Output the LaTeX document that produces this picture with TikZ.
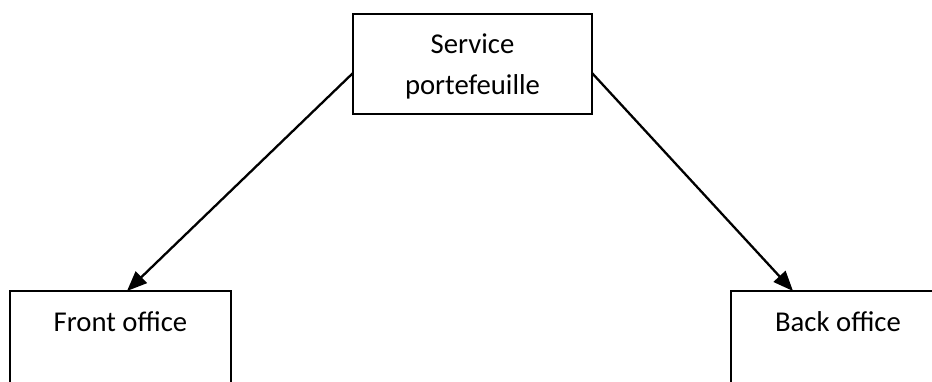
\documentclass[tikz,border=0pt]{standalone}
\usepackage{fontspec}
\setmainfont{Carlito}
\usetikzlibrary{arrows.meta}
\tikzset{
  box/.style={draw, line width=1.6pt, inner sep=0pt, outer sep=0pt, fill=none},
  lbl/.style={anchor=base, inner sep=0pt, font=\fontsize{28.7}{41}\selectfont},
  link/.style={line width=2.3pt, -{Triangle[length=20pt,width=16pt]}}
}
\begin{document}
\begin{tikzpicture}[x=1pt,y=1pt]
  \clip (0,0) rectangle (932,381);
  \fill[white] (0,0) rectangle (932,381);

  % boxes
  \node[box, minimum width=239pt, minimum height=100pt] (top) at (472.5,317) {};
  \node[box, minimum width=221pt, minimum height=120pt] (front) at (120.5,30) {};
  \node[box, minimum width=214pt, minimum height=120pt] (back) at (838,30) {};

  % labels
  \node[lbl] (t1) at (472.5,327) {Service};
  \node[lbl] (t2) at (472.5,286) {portefeuille};
  \node[lbl] (f1) at (120.5,50) {Front office};
  \node[lbl] (b1) at (838,50) {Back office};

  % connector ends on the box borders
  \coordinate (sl) at ([yshift=-9pt]top.west);
  \coordinate (sr) at ([yshift=-9pt]top.east);
  \coordinate (fe) at ([xshift=6.5pt]front.north);
  \coordinate (be) at ([xshift=-45pt]back.north);

  \draw[link] (sl) -- (fe);
  \draw[link] (sr) -- (be);
\end{tikzpicture}
\end{document}
